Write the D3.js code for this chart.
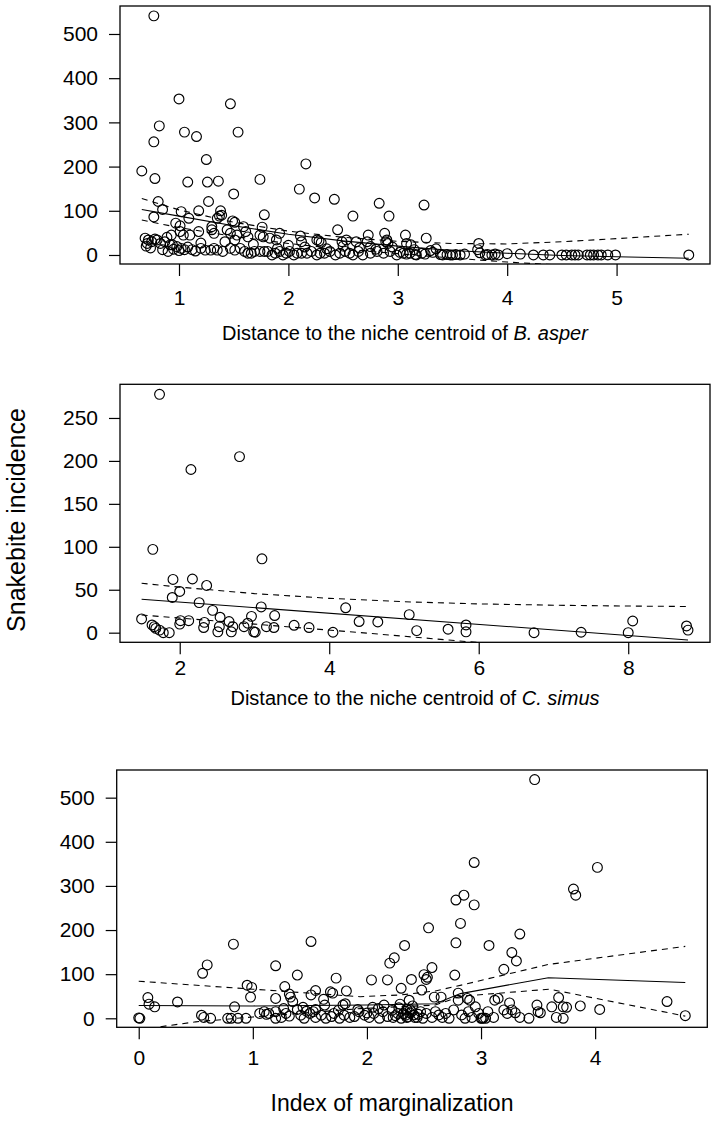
<!DOCTYPE html>
<html>
<head>
<meta charset="utf-8">
<script src="https://cdn.jsdelivr.net/npm/d3@7"></script>
<style>
  html, body { margin: 0; padding: 0; background: #fff; }
  svg text { font-family: "Liberation Sans", Arial, Helvetica, sans-serif; fill: #000; }
</style>
</head>
<body>
<svg id="chart" width="717" height="1122"></svg>
<script>
// ---- data: snakebite incidence vs. distance / marginalization ----

// panel 1: distance to niche centroid of B. asper
const asperPoints = [
  [0.77,541],[1.00,353],[1.47,342],[0.82,292],[0.77,256],[1.05,278],[1.16,268],[1.54,278],[1.25,216],[2.16,206],
  [0.66,190],[0.78,173],[1.08,165],[1.26,165],[1.36,167],[1.74,171],[2.10,149],[2.24,129],[2.42,126],[1.50,138],
  [1.27,121],[0.81,121],[0.85,103],[1.18,100],[1.02,98],[1.38,100],[1.37,88],[1.78,91],[2.59,88],[2.92,88],
  [3.24,113],[2.83,117],
  [0.77,86],[1.09,83],[1.35,83],[0.97,72],[1.01,66],[1.30,64],[1.49,77],[1.51,74],[1.59,64],[1.76,63],
  [2.45,57],[1.92,49],[2.11,43],[1.10,45],[0.93,45],[1.04,45],[1.01,53],[1.18,53],[1.30,57],[1.32,49],
  [1.44,57],[1.47,49],[1.53,45],[1.61,53],[1.63,41],[1.74,45],[1.77,41],[2.73,45],[2.88,49],[2.90,34],
  [3.07,45],[3.26,38],[0.89,40],[1.39,90],[1.83,38],
  [0.69,38],[0.72,34],[0.75,30],[0.80,34],[0.83,26],[0.87,30],[0.92,23],[0.71,26],[0.78,36],[0.94,23],
  [0.98,19],[1.51,34],[1.89,34],[2.12,30],[2.26,34],[2.30,28],[2.28,32],[2.49,30],[2.53,34],[2.62,30],
  [2.72,30],[2.75,19],[2.89,30],[2.91,26],[3.08,26],[3.12,23],[3.74,26],[1.20,27],[1.42,30],[1.68,24],[2.00,22],
  [0.70,20],[0.74,16],[0.85,12],[0.90,8],[1.02,15],[1.05,12],[1.08,18],[1.20,15],[1.24,11],[1.29,11],
  [1.32,15],[1.35,11],[1.40,8],[1.47,15],[1.51,11],[1.56,15],[1.60,8],[1.63,4],[1.66,4],[1.69,8],
  [1.74,8],[1.78,8],[1.81,8],[1.85,0],[1.88,4],[1.92,8],[1.95,0],[1.98,4],[2.01,8],[2.05,0],
  [2.08,4],[2.12,4],[2.17,4],[2.21,8],[2.26,0],[2.29,4],[2.33,4],[2.38,8],[2.43,0],[2.47,4],
  [2.52,8],[2.56,4],[2.59,0],[2.64,8],[2.68,0],[2.75,4],[2.81,8],[2.87,4],[2.93,8],[2.99,0],
  [3.05,4],[3.11,4],[3.17,0],[1.90,15],[2.15,18],[2.35,14],[2.50,20],[2.65,16],[2.80,13],[2.95,18],
  [3.15,12],[1.15,9],[1.00,10],[0.95,13],[1.12,12],
  [3.02,6],[3.08,2],[3.16,1],[3.22,4],[3.25,2],[3.32,6],[3.39,1],[3.41,0],[3.45,1],[3.48,0],
  [3.50,0],[3.53,1],[3.57,0],[3.61,2],[3.75,5],[3.80,0],[3.82,1],[3.86,0],[3.89,2],[3.92,0],
  [3.73,12],[3.30,10],[3.35,14],[4.00,3],[4.12,2],[4.24,0],[4.33,0],[4.39,0],[4.50,0],[4.54,0],
  [4.59,0],[4.62,0],[4.65,0],[4.73,0],[4.76,0],[4.79,0],[4.83,0],[4.86,0],[4.92,0],[4.99,0],[5.66,0]
];
const asperFit   = [[0.66,103],[1.0,88],[1.5,66],[2.0,47],[2.5,32],[3.0,20],[3.5,10],[4.0,4],[4.5,-1],[5.0,-4],[5.66,-7.5]];
const asperUpper = [[0.66,128],[1.0,102],[1.5,74],[2.0,54],[2.5,40],[3.0,31],[3.5,26],[4.0,25],[4.5,30],[5.0,37],[5.66,47]];
const asperLower = [[0.66,79],[1.0,62],[1.5,42],[2.0,26],[2.5,13],[3.0,3],[3.5,-7],[4.0,-16],[4.5,-23]];

// panel 2: distance to niche centroid of C. simus
const simusPoints = [
  [1.73,277.5],[2.80,205],[2.15,190],[1.64,97],[3.10,86],[1.91,62],[2.17,62.5],[2.36,55],[2.00,48],[1.90,41],
  [2.26,35],[2.44,26],[3.09,30],[4.22,29],[1.49,16],[1.63,9],[1.66,7],[1.68,5],[1.73,3],[1.78,0],
  [1.86,0],[2.00,10],[2.01,14],[2.12,14],[2.32,6],[2.33,12],[2.51,1],[2.53,7],[2.54,18],[2.66,13],
  [2.69,1],[2.71,7],[2.86,7],[2.91,11],[2.96,19],[2.99,1],[3.01,0.5],[3.16,7],[3.26,6],[3.27,20],
  [3.53,8.6],[3.73,6],[4.05,0.5],[4.40,13],[4.65,12.5],[5.07,21],[5.17,2.4],[5.59,4],[5.83,9],[5.83,1],
  [6.74,0],[7.37,0.5],[8.00,0],[8.06,13.6],[8.78,7.8],[8.80,3]
];
const simusFit   = [[1.49,39],[8.80,-8.5]];
const simusUpper = [[1.49,57.5],[2.0,53],[3.0,45.5],[4.0,40],[5.0,36],[6.0,33.5],[7.0,32],[8.0,31],[8.8,30.5]];
const simusLower = [[1.49,20.6],[3.0,10],[4.5,-0.5],[6.0,-11.5],[8.8,-31]];

// panel 3: index of marginalization
const margPoints = [
  [3.47,541],[2.94,353],[4.02,342],[3.81,293],[3.83,279],[2.85,279],[2.78,268],[2.94,257],[2.82,215],[2.54,205],
  [2.78,171],[3.34,191],[3.07,165],[3.27,149],[2.33,165],[2.24,137],[2.20,125],[3.31,130],[3.20,111],[2.57,115],
  [2.50,99],[2.53,93],[2.52,88],[2.77,98],[2.04,87],[2.18,87],[2.39,88],[2.30,68],[2.48,64],[2.80,57],
  [2.59,48],[2.65,48],[2.88,45],[2.90,41],[3.12,41],[3.15,45],[3.25,35],[3.68,47],[3.49,30],[3.87,28],
  [4.04,20],[4.63,38],[4.79,6],[3.62,26],[3.72,26],[3.75,25],
  [0.00,1],[0.01,0],[0.08,47],[0.09,32],[0.14,26],[0.34,37],[0.56,102],[0.60,121],[0.55,7],[0.57,2],
  [0.63,0],[0.83,168],[0.84,26],[0.78,0],[0.81,0],[0.87,0],[0.94,0],[0.95,75],[0.99,70],[0.98,48],
  [1.06,11],[1.10,15],[1.14,11],[1.20,15],[1.20,119],[1.20,45],[1.28,72],[1.33,48],[1.32,55],[1.39,98],
  [1.51,174],[1.51,53],[1.55,63],[1.62,43],[1.70,57],[1.73,91],[1.82,62],[1.81,33],[1.68,60],[1.20,0],
  [1.25,2],[1.29,11],[1.32,5],[1.39,20],[1.42,7],[1.45,0],[1.50,11],[1.53,15],[1.55,2],[1.60,7],
  [1.64,0],[1.69,4],[1.71,11],[1.76,0],[1.80,7],[1.85,2],[1.89,4],[1.93,15],[1.98,7],[2.02,2],
  [2.06,11],[2.11,0],[2.14,15],[2.18,4],[2.23,2],[2.27,11],[2.30,0],[2.34,7],[2.39,15],[2.42,2],
  [1.44,25],[1.55,20],[1.63,30],[1.79,30],[1.92,20],[2.05,25],[2.29,32],[2.37,41],[1.27,22],[1.35,38],
  [1.12,9],[1.47,16],[1.75,18],[2.00,12],[2.10,22],[2.15,30],[2.22,18],[2.25,6],[2.28,24],[2.32,10],
  [2.35,20],[2.36,3],[2.38,12],[2.40,28],[2.45,9],
  [2.32,11],[2.35,2],[2.38,19],[2.41,7.5],[2.44,2],[2.47,15],[2.49,0],[2.52,11],[2.57,2],[2.60,15],
  [2.63,7.5],[2.66,2],[2.69,11],[2.72,0],[2.76,19],[2.80,41],[2.83,7.5],[2.86,0],[2.89,15],[2.92,2],
  [2.95,26],[2.98,11],[3.01,0],[3.04,0],[3.06,15],[3.11,2],[3.20,19],[3.23,11],[3.27,19],[3.30,12.5],
  [3.34,2],[3.42,0],[3.52,12.5],[3.50,15],[3.66,2],[3.72,0],[3.00,0],[3.02,1]
];
const margFit   = [[0.0,29],[1.0,28],[2.0,30],[2.6,33],[2.82,56],[3.59,92],[4.79,81]];
const margUpper = [[0.0,84],[1.0,66],[1.94,49],[2.3,53],[2.6,62],[2.84,76],[3.59,122],[4.79,163]];
const margLower = [[0.0,-26],[0.5,-8],[1.0,3],[1.5,13],[1.94,22],[2.6,30],[2.82,50],[3.60,66],[4.79,5]];

// tick values
const asperXTicks = [1, 2, 3, 4, 5];
const simusXTicks = [2, 4, 6, 8];
const margXTicks = [0, 1, 2, 3, 4];
const yTicks500 = [0, 100, 200, 300, 400, 500];
const yTicks250 = [0, 50, 100, 150, 200, 250];

// ---- layout ----
const panels = [
  {
    points: asperPoints, fit: asperFit, upper: asperUpper, lower: asperLower,
    box: { x0: 120, x1: 710, y0: 6, y1: 264 },
    xDomain: [0.4607, 5.854], yDomain: [-20.4, 563.3],
    xTicks: asperXTicks, yTicks: yTicks500,
    xPad: 14, title: ["Distance to the niche centroid of ", "B. asper"],
    titleX: 405, titleY: 340, titleSize: 20
  },
  {
    points: simusPoints, fit: simusFit, upper: simusUpper, lower: simusLower,
    box: { x0: 120, x1: 710, y0: 384.3, y1: 642.3 },
    xDomain: [1.201, 9.094], yDomain: [-11.2, 289.2],
    xTicks: simusXTicks, yTicks: yTicks250,
    xPad: 6, title: ["Distance to the niche centroid of ", "C. simus"],
    titleX: 415, titleY: 705, titleSize: 20
  },
  {
    points: margPoints, fit: margFit, upper: margUpper, lower: margLower,
    box: { x0: 116.7, x1: 707.3, y0: 770, y1: 1027.3 },
    xDomain: [-0.193, 4.983], yDomain: [-20.4, 562.7],
    xTicks: margXTicks, yTicks: yTicks500,
    xPad: 11, title: ["Index of marginalization"],
    titleX: 392, titleY: 1111, titleSize: 23
  }
];

const svg = d3.select("#chart");

panels.forEach((p, i) => drawPanel(p, i));

// y axis title shared by the stack
svg.append("text")
  .attr("transform", "translate(25,520) rotate(-90)")
  .attr("text-anchor", "middle")
  .style("font-size", "25px")
  .text("Snakebite incidence");

function drawPanel(p, i) {
  const x = d3.scaleLinear().domain(p.xDomain).range([p.box.x0, p.box.x1]);
  const y = d3.scaleLinear().domain(p.yDomain).range([p.box.y1, p.box.y0]);

  const g = svg.append("g");

  // clip for the fitted lines
  const clipId = "clip" + i;
  svg.append("clipPath").attr("id", clipId)
    .append("rect")
    .attr("x", p.box.x0).attr("y", p.box.y0)
    .attr("width", p.box.x1 - p.box.x0).attr("height", p.box.y1 - p.box.y0);

  const line = d3.line().x((d) => x(d[0])).y((d) => y(d[1]));

  const lines = g.append("g").attr("clip-path", `url(#${clipId})`);
  lines.append("path").datum(p.fit).attr("d", line)
    .attr("fill", "none").attr("stroke", "#000").attr("stroke-width", 1.1);
  [p.upper, p.lower].forEach((band) => {
    lines.append("path").datum(band).attr("d", line)
      .attr("fill", "none").attr("stroke", "#000").attr("stroke-width", 1.1)
      .attr("stroke-dasharray", "6,5");
  });

  // points
  g.append("g").selectAll("circle")
    .data(p.points)
    .enter()
    .append("circle")
    .attr("cx", (d) => x(d[0]))
    .attr("cy", (d) => y(d[1]))
    .attr("r", 4.9)
    .attr("fill", "none")
    .attr("stroke", "#000")
    .attr("stroke-width", 1.15);

  // box
  g.append("rect")
    .attr("x", p.box.x0).attr("y", p.box.y0)
    .attr("width", p.box.x1 - p.box.x0).attr("height", p.box.y1 - p.box.y0)
    .attr("fill", "none").attr("stroke", "#000").attr("stroke-width", 1.3);

  // axes
  const fmt = d3.format("d");
  const yAxis = d3.axisLeft(y).tickValues(p.yTicks).tickFormat(fmt).tickSize(11).tickPadding(11);
  const ya = g.append("g").attr("transform", `translate(${p.box.x0},0)`).call(yAxis);

  const xAxis = d3.axisBottom(x).tickValues(p.xTicks).tickFormat(fmt).tickSize(12).tickPadding(p.xPad);
  const xa = g.append("g").attr("transform", `translate(0,${p.box.y1})`).call(xAxis);

  [ya, xa].forEach((a) => {
    a.select(".domain").remove();
    a.selectAll("line").attr("stroke", "#000").attr("stroke-width", 1.2);
    a.selectAll("text")
      .style("font-size", "21px")
      .style("font-family", '"Liberation Sans", Arial, sans-serif')
      .attr("fill", "#000");
  });

  // axis title
  const t = g.append("text")
    .attr("x", p.titleX).attr("y", p.titleY)
    .attr("text-anchor", "middle")
    .style("font-size", p.titleSize + "px");
  t.append("tspan").text(p.title[0]);
  if (p.title[1]) t.append("tspan").style("font-style", "italic").text(p.title[1]);
}
</script>
</body>
</html>
